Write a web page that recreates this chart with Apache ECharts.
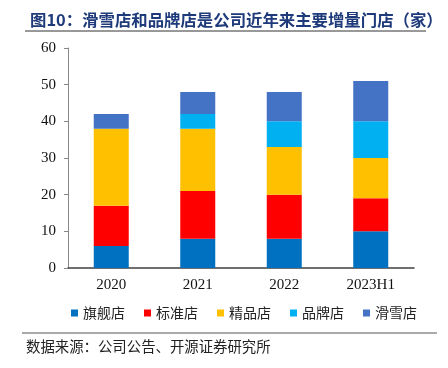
<!DOCTYPE html>
<html><head><meta charset="utf-8">
<script src="https://cdn.jsdelivr.net/npm/echarts@6/dist/echarts.min.js"></script>
<style>html,body{margin:0;padding:0;background:#fff}#c{width:448px;height:368px}</style>
</head><body><div id="c"></div>
<script>
const categories = ['2020', '2021', '2022', '2023H1'];
const seriesNames = ['旗舰店', '标准店', '精品店', '品牌店', '滑雪店'];
const flagship = [6, 8, 8, 10];
const standard = [11, 13, 12, 9];
const boutique = [21, 17, 13, 11];
const brand = [0, 4, 7, 10];
const ski = [4, 6, 8, 11];
const yTicks = [0, 10, 20, 30, 40, 50, 60];

const colors = ['#0070C0', '#FF0000', '#FFC000', '#00B0F0', '#4472C4'];
const values = [flagship, standard, boutique, brand, ski];
const serif = '"Liberation Serif","Noto Sans CJK SC",serif';
const cjk = '"Noto Sans CJK SC","Liberation Serif",serif';

const chart = echarts.init(document.getElementById('c'));
chart.setOption({
  animation: false,
  title: {
    text: '图10：滑雪店和品牌店是公司近年来主要增量门店（家）',
    left: 25, top: 7,
    textStyle: { fontFamily: cjk, fontSize: 16.4, fontWeight: 'bold', color: '#1F3A7A' }
  },
  grid: { left: 68, right: 34, top: 48, bottom: 100 },
  legend: {
    top: 301, left: 66,
    itemWidth: 7, itemHeight: 7, itemGap: 19,
    icon: 'rect',
    textStyle: { fontFamily: cjk, fontSize: 14, color: '#222' },
    data: seriesNames
  },
  xAxis: {
    type: 'category', data: categories,
    axisLine: { lineStyle: { color: '#404040', width: 1.5 } },
    axisTick: { inside: true, length: 4, lineStyle: { color: '#555' } },
    axisLabel: { fontFamily: serif, fontSize: 15, color: '#111', margin: 10 }
  },
  yAxis: {
    type: 'value', min: 0, max: 60, interval: 10,
    axisLine: { show: true, lineStyle: { color: '#888' } },
    axisTick: { show: true, length: 4, lineStyle: { color: '#888' } },
    splitLine: { show: false },
    axisLabel: { fontFamily: serif, fontSize: 15, color: '#111', margin: 12,
      formatter: v => yTicks.includes(v) ? String(v) : '' }
  },
  series: seriesNames.map((n, i) => ({
    name: n, type: 'bar', stack: 'total', data: values[i], barWidth: 35,
    itemStyle: { color: colors[i] }
  })),
  graphic: [
    { type: 'line', shape: { x1: 25, y1: 31, x2: 426, y2: 31 }, style: { stroke: '#333', lineWidth: 1 } },
    { type: 'line', shape: { x1: 22, y1: 333, x2: 437, y2: 333 }, style: { stroke: '#555', lineWidth: 1 } },
    { type: 'text', left: 26, top: 339, style: { text: '数据来源：公司公告、开源证券研究所', font: '14.4px ' + cjk, fill: '#222' } }
  ]
});
</script></body></html>
